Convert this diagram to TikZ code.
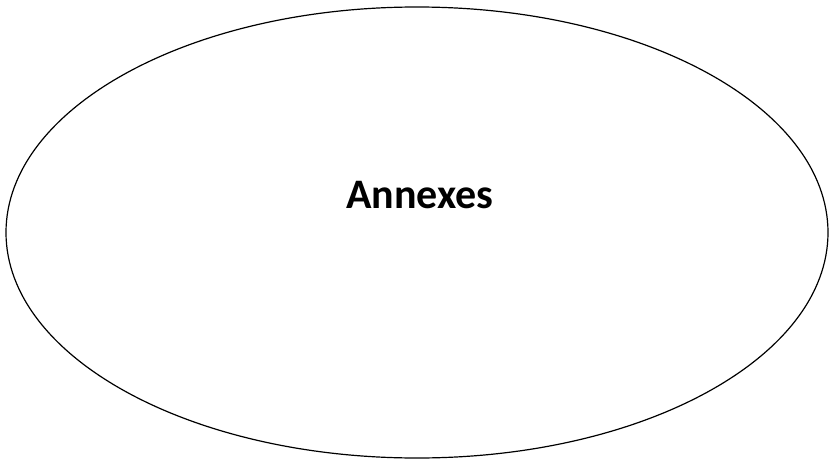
\documentclass[tikz,border=0pt]{standalone}
\usepackage{fontspec}
\setmainfont{Carlito}
\usetikzlibrary{shapes.geometric}

\begin{document}
\begin{tikzpicture}[x=1pt, y=-1pt, font=\bfseries\fontsize{42}{48}\selectfont]
\useasboundingbox (0,0) rectangle (831,466);
\node[draw, ellipse, line width=1.2pt, minimum width=822pt, minimum height=451pt, inner sep=0pt] (annexes) at (417,232.5) {};
\node[anchor=base] (label) at (420,208) {Annexes};
\end{tikzpicture}
\end{document}
